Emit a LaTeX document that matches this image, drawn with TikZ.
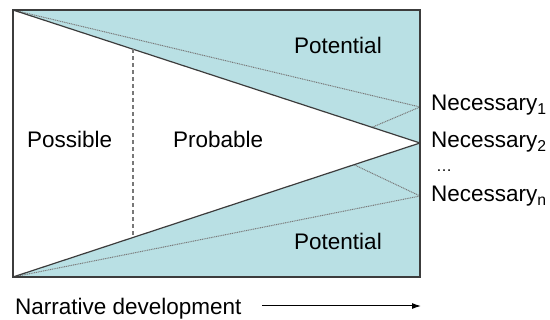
\documentclass[tikz,border=0pt]{standalone}
\usepackage{fontspec}
\setmainfont{Liberation Sans}
\usetikzlibrary{calc,arrows.meta}
\definecolor{potblue}{RGB}{185,224,228}
\definecolor{edgegray}{RGB}{60,60,60}
\definecolor{dotgray}{RGB}{120,120,120}
\tikzset{
  lbl/.style={anchor=base west, inner sep=0pt, font=\fontsize{22.5}{27}\selectfont},
  solidline/.style={draw=edgegray, line width=1.2pt},
  dotline/.style={draw=dotgray, line width=1pt, dash pattern=on 1pt off 0.8pt},
  dashline/.style={draw=dotgray, line width=1.2pt, dash pattern=on 4pt off 3pt},
}
\begin{document}
\begin{tikzpicture}[x=1pt,y=-1pt]
\useasboundingbox (0,0) rectangle (550,320);
\coordinate (TL) at (13,10);
\coordinate (TR) at (420,10);
\coordinate (BR) at (420,277);
\coordinate (BL) at (13,277);
\coordinate (N1) at (420,107);
\coordinate (N2) at (420,143);
\coordinate (Nn) at (420,196);
\coordinate (P1) at ($(TL)!0.882!(N2)$);
\coordinate (Pn) at ($(BL)!0.838!(N2)$);
\coordinate (D1) at ($(TL)!0.295!(N2)$);
\coordinate (D2) at ($(BL)!0.295!(N2)$);
\coordinate (A1) at (262,306);
\coordinate (A2) at (421,306);
% regions
\fill[potblue] (TL) rectangle (BR);
\fill[white] (TL) -- (N2) -- (BL) -- cycle;
% dotted lines
\draw[dotline] (TL) -- (N1);
\draw[dotline] (BL) -- (Nn);
\draw[dotline] (P1) -- (N1);
\draw[dotline] (Pn) -- (Nn);
% solid lines
\draw[solidline] (TL) -- (N2);
\draw[solidline] (BL) -- (N2);
% dashed divider
\draw[dashline] (D1) -- (D2);
% border
\draw[edgegray, line width=1.2pt] (TL) rectangle (BR);
% labels
\node[lbl] (possible) at (27,148) {Possible};
\node[lbl] (probable) at (173,148) {Probable};
\node[lbl] (pottop) at (294,54) {Potential};
\node[lbl] (potbot) at (294,250) {Potential};
\node[lbl] (nec1) at (431,110.5) {Necessary\textsubscript{1}};
\node[lbl] (nec2) at (431,148) {Necessary\textsubscript{2}};
\node[lbl] (dots) at (436,172) {\fontsize{16}{18}\selectfont\dots};
\node[lbl] (necn) at (431,202) {Necessary\textsubscript{n}};
\node[lbl] (narr) at (15,315) {Narrative development};
\draw[line width=1pt, -{Latex[length=9pt,width=6pt]}] (A1) -- (A2);
\end{tikzpicture}
\end{document}
